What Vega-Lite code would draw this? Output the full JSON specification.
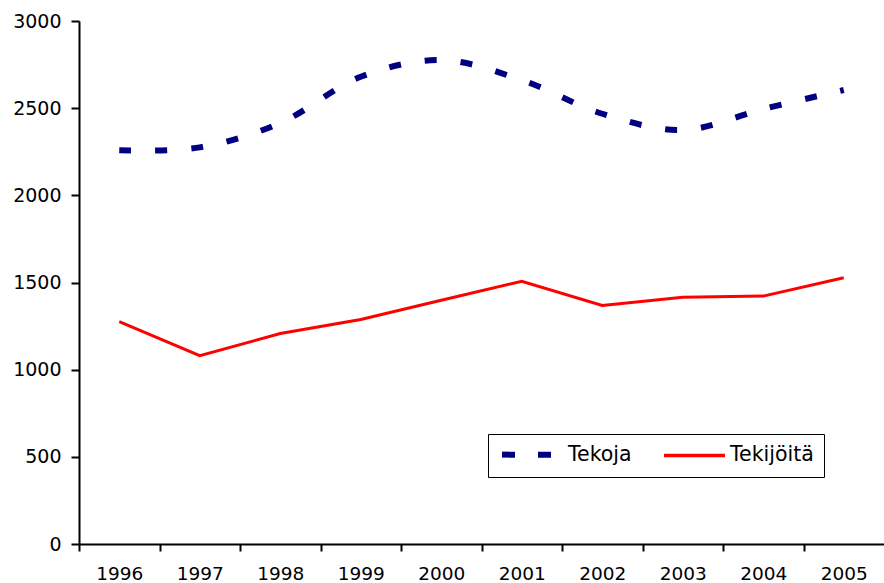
{
  "$schema": "https://vega.github.io/schema/vega-lite/v6.json",
  "width": 805,
  "height": 523,
  "autosize": {"type": "none"},
  "padding": {"left": 79, "top": 21, "right": 0, "bottom": 39},
  "background": "white",
  "config": {
    "font": "DejaVu Sans",
    "view": {"stroke": null}
  },
  "data": {
    "values": [
      {"year": "1996", "series": "Tekoja", "value": 2258},
      {"year": "1997", "series": "Tekoja", "value": 2275},
      {"year": "1998", "series": "Tekoja", "value": 2415},
      {"year": "1999", "series": "Tekoja", "value": 2680},
      {"year": "2000", "series": "Tekoja", "value": 2776},
      {"year": "2001", "series": "Tekoja", "value": 2661},
      {"year": "2002", "series": "Tekoja", "value": 2468},
      {"year": "2003", "series": "Tekoja", "value": 2375},
      {"year": "2004", "series": "Tekoja", "value": 2495},
      {"year": "2005", "series": "Tekoja", "value": 2604},
      {"year": "1996", "series": "Tekijöitä", "value": 1275},
      {"year": "1997", "series": "Tekijöitä", "value": 1080},
      {"year": "1998", "series": "Tekijöitä", "value": 1207},
      {"year": "1999", "series": "Tekijöitä", "value": 1288},
      {"year": "2000", "series": "Tekijöitä", "value": 1398},
      {"year": "2001", "series": "Tekijöitä", "value": 1507},
      {"year": "2002", "series": "Tekijöitä", "value": 1368},
      {"year": "2003", "series": "Tekijöitä", "value": 1415},
      {"year": "2004", "series": "Tekijöitä", "value": 1422},
      {"year": "2005", "series": "Tekijöitä", "value": 1527}
    ]
  },
  "encoding": {
    "x": {
      "field": "year",
      "type": "ordinal",
      "scale": {"type": "point", "padding": 0.5},
      "axis": {
        "title": null,
        "labelAngle": 0,
        "labelFontSize": 18.5,
        "labelColor": "black",
        "labelPadding": 13,
        "tickOffset": -40.25,
        "labelOffset": 40.25,
        "tickSize": 7,
        "tickColor": "black",
        "tickWidth": 2,
        "domainColor": "black",
        "domainWidth": 2
      }
    },
    "y": {
      "field": "value",
      "type": "quantitative",
      "scale": {"domain": [0, 3000], "nice": false},
      "axis": {
        "title": null,
        "grid": false,
        "format": "d",
        "values": [0, 500, 1000, 1500, 2000, 2500, 3000],
        "labelFontSize": 19,
        "labelColor": "black",
        "labelPadding": 10,
        "tickSize": 8,
        "tickColor": "black",
        "tickWidth": 2,
        "domainColor": "black",
        "domainWidth": 2
      }
    },
    "color": {
      "field": "series",
      "type": "nominal",
      "scale": {"domain": ["Tekoja", "Tekijöitä"], "range": ["#000080", "#ff0000"]},
      "legend": {
        "title": null,
        "orient": "none",
        "legendX": 409,
        "legendY": 413,
        "direction": "horizontal",
        "strokeColor": "black",
        "fillColor": "white",
        "padding": 10,
        "symbolType": "stroke",
        "symbolSize": 3721,
        "labelFontSize": 20.5,
        "labelColor": "black",
        "labelLimit": 200,
        "columnPadding": 25,
        "encode": {
          "legend": {"update": {"strokeWidth": {"value": 1}}},
          "symbols": {
            "update": {
              "x": {"value": 34.5},
              "strokeDash": {"signal": "datum.value === 'Tekoja' ? [13, 23] : [1, 0]"},
              "strokeWidth": {"signal": "datum.value === 'Tekoja' ? 6 : 3.5"}
            }
          },
          "labels": {
            "update": {
              "x": {"value": 70}
            }
          }
        }
      }
    }
  },
  "layer": [
    {
      "transform": [{"filter": "datum.series === 'Tekoja'"}],
      "mark": {"type": "line", "interpolate": "catmull-rom", "strokeDash": [12, 24], "strokeWidth": 6}
    },
    {
      "transform": [{"filter": "datum.series === 'Tekijöitä'"}],
      "mark": {"type": "line", "interpolate": "linear", "strokeWidth": 3}
    }
  ]
}
